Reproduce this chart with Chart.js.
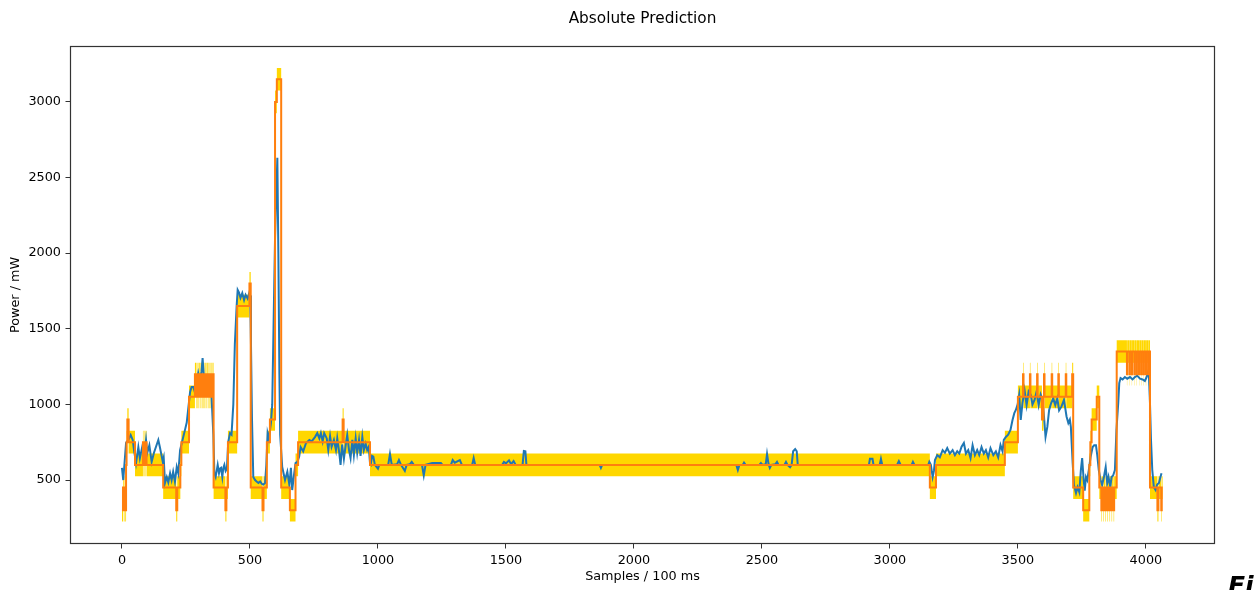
<!DOCTYPE html>
<html>
<head>
<meta charset="utf-8">
<script src="https://cdn.jsdelivr.net/npm/chart.js@4.4.1/dist/chart.umd.min.js"></script>
<style>
  html, body { margin: 0; padding: 0; background: #fff; overflow: hidden; }
  #wrap { position: relative; width: 1259px; height: 590px; overflow: hidden; }
  #fig { position: absolute; left: 1228px; top: 571px; font: italic bold 25px "DejaVu Sans", sans-serif; color: #000; }
</style>
</head>
<body>
<div id="wrap">
  <canvas id="chart" width="1259" height="590"></canvas>
  <div id="fig">Fi</div>
</div>
<script>
// x ticks / y ticks (matplotlib style)
const xTicks = [0, 500, 1000, 1500, 2000, 2500, 3000, 3500, 4000];
const yTicks = [500, 1000, 1500, 2000, 2500, 3000];

// half width of the yellow uncertainty band (mW)
const bandHalf = 75;

// predicted power, step breakpoints [sample, mW] (value holds until next sample)
const predicted = [
  [0,300],[4,450],[7,300],[10,450],[13,300],[16,600],[18,750],[21,900],[26,750],[51,600],
  [82,750],[84,600],[86,750],[88,600],[90,750],[92,600],[94,750],[96,600],
  [161,450],[212,300],[216,450],[228,600],[232,750],[262,1050],
  [285,1200],[290,1050],[292,1200],[295,1050],[297,1200],[299,1050],[301,1200],[304,1050],[306,1200],
  [308,1050],[310,1200],[313,1050],[315,1200],[318,1050],[320,1200],[322,1050],[324,1200],[327,1050],
  [329,1200],[331,1050],[333,1200],[336,1050],[338,1200],[341,1050],[343,1200],[345,1050],[347,1200],
  [350,1050],[352,1200],[354,1050],[356,1200],
  [358,450],[404,300],[408,450],[414,750],[450,1650],[498,1800],[503,450],[549,300],[553,450],
  [566,750],[578,900],[598,3000],[605,3150],[622,450],[656,300],[678,600],[688,750],[862,900],[866,750],
  [969,600],[3156,450],[3180,600],[3449,750],[3500,1050],
  [3520,1200],[3522,1050],[3547,1200],[3549,1050],[3575,1200],[3577,1050],[3594,900],[3600,1050],
  [3602,1200],[3604,1050],[3632,1200],[3634,1050],[3658,1200],[3660,1050],[3687,1200],[3689,1050],
  [3712,1200],[3716,450],[3755,300],[3779,600],[3783,750],[3788,900],[3808,1050],[3818,450],
  [3826,300],[3828,450],[3834,300],[3836,450],[3842,300],[3844,450],[3850,300],[3852,450],
  [3858,300],[3860,450],[3866,300],[3868,450],[3874,300],[3876,450],[3886,1350],
  [3926,1200],[3927,1350],[3936,1200],[3937,1350],[3945,1200],[3946,1350],[3955,1200],[3956,1350],
  [3964,1200],[3965,1350],[3973,1200],[3974,1350],[3982,1200],[3983,1350],[3991,1200],[3992,1350],
  [4000,1200],[4001,1350],[4009,1200],[4010,1350],
  [4016,450],[4045,300],[4049,450],[4060,300],[4062,450],[4066,450]
];

// measured power [sample, mW]
const actual = [
  [0,580],[5,500],[16,745],[25,765],[34,798],[42,765],[47,698],[55,612],[64,718],[70,645],
  [79,718],[87,660],[94,765],[99,680],[107,730],[116,620],[125,680],[142,765],[148,718],[159,625],
  [163,650],[168,480],[175,520],[181,485],[188,545],[194,500],[200,555],[207,490],[214,586],[220,545],
  [227,698],[233,740],[246,830],[253,880],[266,1080],[272,1115],[279,1115],[285,1080],[298,1207],
  [305,1150],[311,1220],[315,1307],[320,1180],[331,1115],[337,1150],[344,1065],[350,1050],
  [357,800],[361,545],[366,520],[370,560],[374,600],[379,545],[383,575],[387,580],[392,520],[396,580],
  [400,600],[405,560],[410,575],[415,751],[422,810],[428,800],[435,1000],[441,1400],[448,1650],
  [452,1757],[457,1740],[463,1705],[470,1736],[477,1690],[483,1725],[491,1700],[497,1736],[501,1720],
  [504,1400],[508,900],[513,520],[520,500],[526,490],[533,480],[540,490],[546,475],[552,470],[559,480],
  [564,600],[569,810],[574,775],[582,877],[587,1000],[592,1500],[598,2100],[603,2400],[607,2630],
  [611,2000],[615,1200],[618,800],[626,586],[637,500],[646,555],[654,467],[660,580],[665,434],
  [672,533],[678,612],[685,620],[692,652],[698,718],[708,690],[719,745],[732,765],[741,755],[754,784],
  [763,810],[771,775],[777,810],[784,755],[790,810],[800,775],[806,698],[813,790],[819,720],[828,765],
  [836,698],[841,775],[849,678],[854,600],[860,735],[867,640],[874,730],[880,798],[887,698],[893,645],
  [900,765],[906,665],[913,775],[919,680],[926,765],[932,660],[939,785],[945,698],[952,740],[958,698],
  [964,720],[969,612],
  [972,605],[977,660],[982,655],[988,600],[1000,575],[1005,600],[1040,600],[1047,672],[1054,600],
  [1075,605],[1082,632],[1090,600],[1105,560],[1112,600],[1125,605],[1132,620],[1140,600],[1172,600],
  [1179,530],[1186,600],[1212,612],[1246,612],[1252,600],[1285,600],[1292,632],[1300,615],[1320,632],
  [1328,600],[1368,600],[1374,645],[1380,600],[1485,600],[1492,620],[1500,610],[1512,630],[1520,605],
  [1530,625],[1538,600],[1565,600],[1570,692],[1576,690],[1580,600],[1866,600],[1871,580],[1876,600],
  [2400,600],[2406,566],[2412,600],[2425,600],[2430,615],[2436,600],[2490,600],[2496,612],[2502,600],
  [2515,605],[2520,672],[2526,605],[2531,580],[2537,600],[2553,605],[2559,620],[2565,600],[2588,600],
  [2594,620],[2600,600],[2610,585],[2616,600],[2622,690],[2630,705],[2636,690],[2640,600],[2918,600],
  [2922,640],[2932,640],[2936,600],[2960,600],[2965,640],[2970,600],[3028,600],[3035,625],[3042,600],
  [3085,600],[3090,620],[3096,600],[3150,600],
  [3154,620],[3160,600],[3167,520],[3172,560],[3176,632],[3185,665],[3195,650],[3206,698],[3215,680],
  [3224,711],[3234,675],[3245,698],[3254,665],[3263,690],[3271,675],[3280,720],[3289,745],[3297,675],
  [3306,698],[3315,645],[3323,730],[3332,665],[3341,698],[3349,665],[3358,718],[3367,675],[3375,698],
  [3384,650],[3393,711],[3404,665],[3414,690],[3423,650],[3432,731],[3440,690],[3445,765],[3453,785],
  [3462,800],[3471,831],[3479,897],[3486,942],[3492,963],[3499,1000],[3505,1062],[3511,897],[3518,1009],
  [3526,1095],[3534,995],[3542,1085],[3550,1065],[3557,1000],[3565,1030],[3573,1085],[3581,995],
  [3589,1065],[3596,1030],[3602,917],[3608,785],[3615,851],[3622,963],[3630,1009],[3638,1040],
  [3646,996],[3654,1040],[3661,960],[3670,985],[3680,1030],[3690,920],[3697,877],[3703,900],[3707,850],
  [3714,612],[3719,467],[3727,414],[3733,453],[3740,420],[3746,566],[3751,645],[3757,500],[3761,430],
  [3766,520],[3771,500],[3777,566],[3784,652],[3792,718],[3798,730],[3805,730],[3810,665],[3816,566],
  [3823,500],[3829,467],[3836,520],[3843,586],[3849,480],[3854,520],[3861,453],[3866,520],[3872,530],
  [3879,566],[3885,831],[3892,1009],[3896,1141],[3901,1174],[3909,1165],[3918,1181],[3927,1170],
  [3938,1181],[3948,1165],[3957,1181],[3966,1190],[3977,1170],[3987,1165],[3996,1155],[4003,1181],
  [4011,1227],[4016,1009],[4020,765],[4025,566],[4031,453],[4038,434],[4044,470],[4051,480],
  [4057,520],[4061,545]
];

const toPts = (arr, off) => arr.map(([x, y]) => ({ x: x, y: y + (off || 0) }));

const tickFont = { family: 'DejaVu Sans', size: 12.8 };

const frame = {
  id: 'frame',
  afterDraw(chart) {
    const { ctx, chartArea: a } = chart;
    ctx.save();
    ctx.strokeStyle = '#333';
    ctx.lineWidth = 1.2;
    ctx.strokeRect(Math.round(a.left) + 0.5, Math.round(a.top) + 0.5,
      Math.round(a.right - a.left) - 1, Math.round(a.bottom - a.top) - 1);
    ctx.restore();
  }
};

new Chart(document.getElementById('chart'), {
  type: 'line',
  plugins: [frame],
  data: {
    datasets: [
      { label: 'upper', data: toPts(predicted, bandHalf), stepped: true, pointRadius: 0,
        borderWidth: 1, borderColor: 'rgba(0,0,0,0)', backgroundColor: '#FFD700', fill: '+1', order: 3 },
      { label: 'lower', data: toPts(predicted, -bandHalf), stepped: true, pointRadius: 0,
        borderWidth: 1, borderColor: 'rgba(0,0,0,0)', fill: false, order: 3 },
      { label: 'actual', data: toPts(actual), pointRadius: 0, borderWidth: 2,
        borderColor: '#1f77b4', tension: 0, fill: false, order: 2 },
      { label: 'predicted', data: toPts(predicted), stepped: true, pointRadius: 0, borderWidth: 2,
        borderColor: '#ff7f0e', fill: false, order: 1 }
    ]
  },
  options: {
    responsive: false,
    animation: false,
    devicePixelRatio: 1,
    layout: { padding: { left: 0, right: 44, top: 0, bottom: 0 } },
    plugins: {
      legend: { display: false },
      tooltip: { enabled: false },
      title: {
        display: true,
        fullSize: false,
        text: 'Absolute Prediction',
        color: '#000',
        font: { family: 'DejaVu Sans', size: 15.3, weight: 'normal' },
        padding: { top: 9.5, bottom: 18.1 }
      }
    },
    scales: {
      x: {
        type: 'linear',
        min: -203, max: 4270,
        afterFit: (s) => { s.height = 46; },
        afterBuildTicks: (s) => { s.ticks = xTicks.map(v => ({ value: v })); },
        ticks: { color: '#000', font: tickFont, padding: 4, maxRotation: 0, callback: (v) => String(v) },
        grid: { display: true, drawOnChartArea: false, drawTicks: true, tickLength: 4.5, color: '#333' },
        border: { display: false },
        title: { display: true, text: 'Samples / 100 ms', color: '#000', font: tickFont, padding: { top: 0, bottom: 5.3 } }
      },
      y: {
        type: 'linear',
        min: 77, max: 3370,
        afterFit: (s) => { s.width = 70; },
        afterBuildTicks: (s) => { s.ticks = yTicks.map(v => ({ value: v })); },
        ticks: { color: '#000', font: tickFont, padding: 4.5, callback: (v) => String(v) },
        grid: { display: true, drawOnChartArea: false, drawTicks: true, tickLength: 4.5, color: '#333' },
        border: { display: false },
        title: { display: true, text: 'Power / mW', color: '#000', font: tickFont, padding: { top: 8.3, bottom: 0 } }
      }
    }
  }
});
</script>
</body>
</html>
